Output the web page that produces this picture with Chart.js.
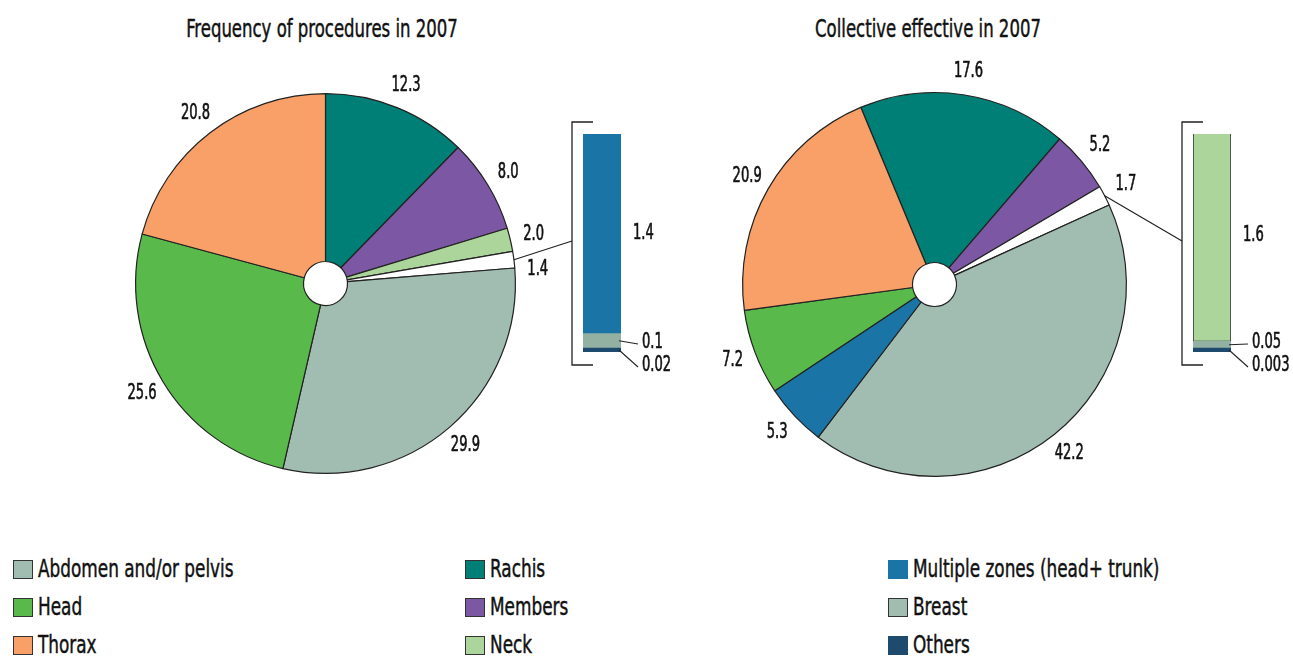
<!DOCTYPE html>
<html><head><meta charset="utf-8">
<script src="https://cdn.jsdelivr.net/npm/chart.js@4.4.1/dist/chart.umd.min.js"></script>
<style>
html,body{margin:0;padding:0}
body{width:1293px;height:657px;background:#fff;position:relative;overflow:hidden;
 font-family:"DejaVu Sans Condensed","DejaVu Sans",sans-serif;color:#111}
canvas{position:absolute}
.title{position:absolute;top:14px;font-size:24.5px;line-height:30px;white-space:nowrap;transform:translateX(-50%) scaleX(0.75);-webkit-text-stroke:0.45px #111}
.leg{position:absolute;height:26px;display:flex;align-items:center;white-space:nowrap}
.leg i{display:inline-block;width:20px;height:19px;box-sizing:border-box;margin-right:5px;flex:none}
.leg span{display:inline-block;font-size:24.5px;line-height:26px;transform:scaleX(0.766);transform-origin:0 50%;-webkit-text-stroke:0.45px #111}
</style>
</head><body>
<div class="title" id="t1" style="left:322px"></div>
<div class="title" id="t2" style="left:928px"></div>
<canvas id="pieL" width="646" height="500" style="left:0;top:0"></canvas>
<canvas id="pieR" width="647" height="500" style="left:646px;top:0"></canvas>
<canvas id="barL" width="140" height="270" style="left:560px;top:110px"></canvas>
<canvas id="barR" width="123" height="270" style="left:1170px;top:110px"></canvas>
<div id="legend"></div>
<script>
// ---------- DATA ----------
const titles = ["Frequency of procedures in 2007", "Collective effective in 2007"];

const categories = ["Abdomen and/or pelvis","Head","Thorax","Rachis","Members","Neck",
  "Multiple zones (head+ trunk)","Breast","Others"];

const freqLabels = ["Rachis","Members","Neck","Small categories","Abdomen and/or pelvis","Head","Thorax"];
const freqValues = [12.3, 8.0, 2.0, 1.4, 29.9, 25.6, 20.8];
const freqDetailLabels = ["Others","Breast","Multiple zones (head+ trunk)"];
const freqDetailValues = [0.02, 0.1, 1.4];

const doseLabels = ["Rachis","Members","Small categories","Abdomen and/or pelvis","Multiple zones (head+ trunk)","Head","Thorax"];
const doseValues = [17.6, 5.2, 1.7, 42.2, 5.3, 7.2, 20.9];
const doseDetailLabels = ["Others","Breast","Neck"];
const doseDetailValues = [0.003, 0.05, 1.6];

// ---------- STYLE ----------
const FONT = '"DejaVu Sans Condensed","DejaVu Sans",sans-serif';
const LABEL_SIZE = 20.5, LABEL_SX = 0.71;
const colors = {
  "Abdomen and/or pelvis":"#a1bdb1","Head":"#59b94b","Thorax":"#f8a068","Rachis":"#007f76",
  "Members":"#7c57a4","Neck":"#acd59c","Multiple zones (head+ trunk)":"#1b74a6",
  "Breast":"#a1bdb1","Others":"#1d4a6d","Small categories":"#ffffff"
};
const barColors = {"Breast":"#92b1a2"};
const bordered = {"Multiple zones (head+ trunk)":false,"Others":false};
const INK = "#222";

document.getElementById('t1').textContent = titles[0];
document.getElementById('t2').textContent = titles[1];

// legend
(function(){
  const colX = [13, 465, 888], rowY = [556, 594, 632];
  const lg = document.getElementById('legend');
  categories.forEach((c,i)=>{
    const d = document.createElement('div');
    d.className='leg';
    d.style.left = colX[Math.floor(i/3)]+'px';
    d.style.top = rowY[i%3]+'px';
    const b = document.createElement('i');
    b.style.background = colors[c];
    if (bordered[c] !== false) b.style.border = '1.5px solid #333';
    d.appendChild(b);
    const s = document.createElement('span');
    s.textContent = c;
    d.appendChild(s);
    lg.appendChild(d);
  });
})();

function condText(ctx, txt, x, y, align){
  ctx.save();
  ctx.font = LABEL_SIZE+'px '+FONT;
  ctx.textBaseline = 'middle';
  ctx.textAlign = align;
  ctx.translate(x, y);
  ctx.scale(LABEL_SX, 1);
  ctx.fillStyle = '#111';
  ctx.strokeStyle = '#111';
  ctx.lineWidth = 0.6;
  ctx.fillText(txt, 0, 0);
  ctx.strokeText(txt, 0, 0);
  ctx.restore();
}

const pieLabelPlugin = {
  id:'pieLabels',
  afterDraw(chart, args, opts){
    const ctx = chart.ctx;
    const meta = chart.getDatasetMeta(0);
    const labels = chart.data.labels;
    const vals = chart.data.datasets[0].data;
    const pts = [];
    meta.data.forEach((arc,i)=>{
      const p = arc.getProps(['x','y','startAngle','endAngle','outerRadius'],true);
      const mid = (p.startAngle+p.endAngle)/2;
      const r = p.outerRadius + 24;
      pts.push({i, x:p.x+Math.cos(mid)*r, y:p.y+Math.sin(mid)*r, mid, p});
    });
    for (let k=1;k<pts.length;k++){
      const a=pts[k-1], b=pts[k];
      if (Math.abs(a.x-b.x)<45 && b.y-a.y<35 && b.y>=a.y-5) b.y = a.y+35;
    }
    pts.forEach(q=>condText(ctx, vals[q.i].toFixed(1), q.x, q.y, 'center'));
    const si = labels.indexOf('Small categories');
    if (si>=0){
      const q = pts[si];
      const ex = q.p.x+Math.cos(q.mid)*q.p.outerRadius, ey = q.p.y+Math.sin(q.mid)*q.p.outerRadius;
      const rect = chart.canvas.getBoundingClientRect();
      const tx = opts.bracketX - rect.left, ty = opts.bracketY - rect.top;
      ctx.save();
      ctx.strokeStyle = INK; ctx.lineWidth=1.2;
      ctx.beginPath(); ctx.moveTo(ex,ey); ctx.lineTo(tx,ty); ctx.stroke();
      ctx.restore();
    }
  }
};

function makePie(id, labels, values, rotation, padding, bracket){
  new Chart(document.getElementById(id), {
    type:'pie',
    data:{labels, datasets:[{data:values, backgroundColor:labels.map(l=>colors[l]),
      borderColor:INK, borderWidth:1.2}]},
    options:{responsive:false, animation:false, rotation, cutout:22,
      layout:{padding},
      plugins:{legend:{display:false}, tooltip:{enabled:false}, pieLabels:bracket}},
    plugins:[pieLabelPlugin]
  });
}
makePie('pieL', freqLabels, freqValues, 0, {left:135,top:93,right:130,bottom:26}, {bracketX:572, bracketY:241});
makePie('pieR', doseLabels, doseValues, -22.6, {left:96,top:92,right:166,bottom:23}, {bracketX:1182, bracketY:241});

const barLabelPlugin = {
  id:'barLabels',
  afterDraw(chart){
    const ctx = chart.ctx, ca = chart.chartArea;
    ctx.save();
    ctx.strokeStyle = INK; ctx.lineWidth = 1.3;
    const bx = ca.left-11, top = ca.top-12, bot = ca.bottom+13, tip = ca.left+10;
    ctx.beginPath();
    ctx.moveTo(tip, top); ctx.lineTo(bx, top); ctx.lineTo(bx, bot); ctx.lineTo(tip, bot);
    ctx.stroke();
    const ds = chart.data.datasets;
    let smallIdx = 0;
    for (let d=ds.length-1; d>=0; d--){
      const el = chart.getDatasetMeta(d).data[0];
      const p = el.getProps(['x','y','base','width'],true);
      const right = p.x + p.width/2;
      const cy = (p.y+p.base)/2;
      const txt = String(ds[d].data[0]);
      if (Math.abs(p.base-p.y) > 40){
        condText(ctx, txt, right+12, cy, 'left');
      } else {
        const ly = smallIdx===0 ? ca.bottom-9 : ca.bottom+14;
        const lx = right+21;
        ctx.lineWidth=1.1;
        ctx.beginPath(); ctx.moveTo(right-2, Math.min(cy, ca.bottom-1)); ctx.lineTo(lx-4, ly+1); ctx.stroke();
        condText(ctx, txt, lx, ly, 'left');
        smallIdx++;
      }
    }
    ctx.restore();
  }
};

function makeBar(id, labels, values, padding, outline){
  const total = values.reduce((a,b)=>a+b,0);
  new Chart(document.getElementById(id), {
    type:'bar',
    data:{labels:['detail'], datasets: labels.map((l,i)=>({
      label:l, data:[values[i]], backgroundColor: barColors[l]||colors[l],
      borderColor: INK, borderWidth: (outline && l!=='Others' && l!=='Breast') ? 1 : 0,
      borderSkipped:false, minBarLength: i===0 ? 4 : 0,
      barPercentage:1, categoryPercentage:1}))},
    options:{responsive:false, animation:false, layout:{padding},
      scales:{x:{stacked:true, display:false}, y:{stacked:true, display:false, min:0, max:total}},
      plugins:{legend:{display:false}, tooltip:{enabled:false}}},
    plugins:[barLabelPlugin]
  });
}
makeBar('barL', freqDetailLabels, freqDetailValues, {left:23,top:24,right:79,bottom:28}, false);
makeBar('barR', doseDetailLabels, doseDetailValues, {left:23,top:24,right:62,bottom:28}, true);
</script>
</body></html>
